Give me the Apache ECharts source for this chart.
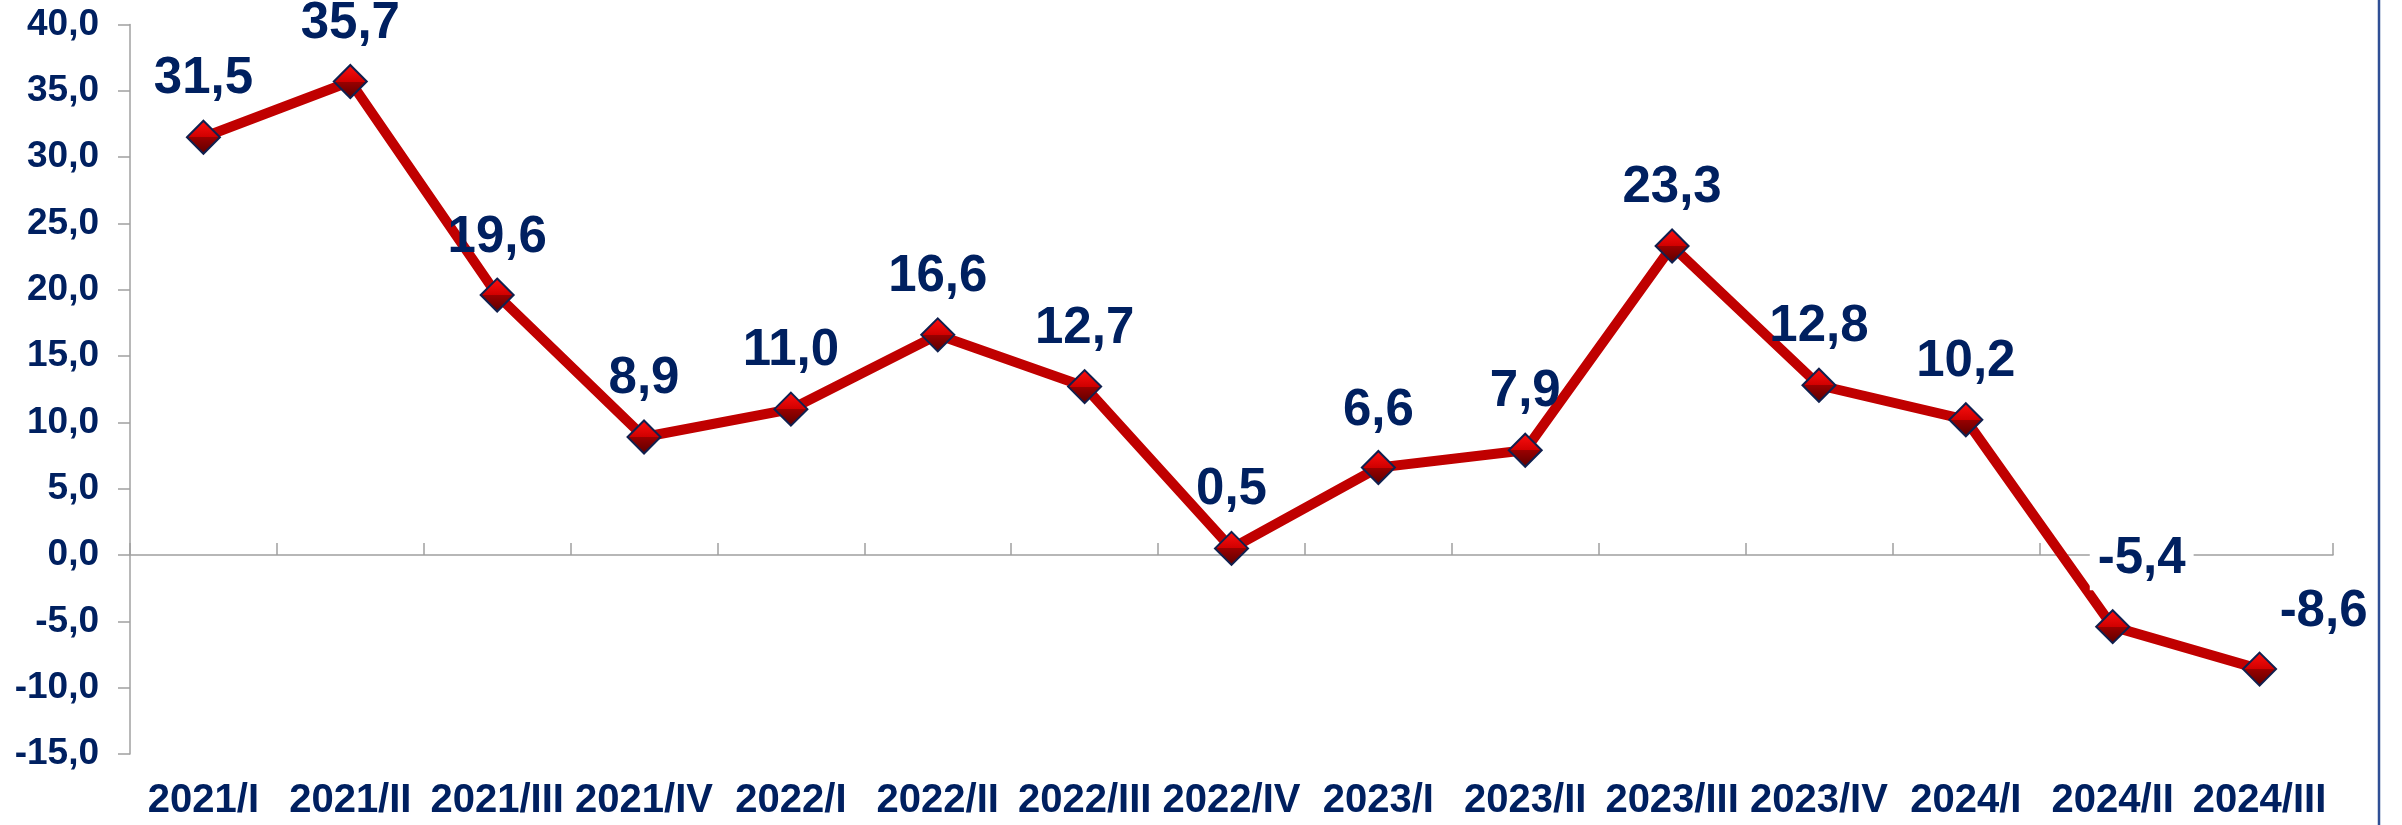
<!DOCTYPE html>
<html>
<head>
<meta charset="utf-8">
<script src="https://cdn.jsdelivr.net/npm/echarts@6/dist/echarts.min.js"></script>
<style>
  html, body { margin: 0; padding: 0; background: #ffffff; }
  #chart { width: 2402px; height: 825px; }
</style>
</head>
<body>
<div id="chart"></div>
<script>
// ---- data ----
const categories = ['2021/I', '2021/II', '2021/III', '2021/IV', '2022/I', '2022/II', '2022/III', '2022/IV',
                    '2023/I', '2023/II', '2023/III', '2023/IV', '2024/I', '2024/II', '2024/III'];
const values = [31.5, 35.7, 19.6, 8.9, 11.0, 16.6, 12.7, 0.5, 6.6, 7.9, 23.3, 12.8, 10.2, -5.4, -8.6];
const yMin = -15, yMax = 40, yStep = 5;

// label placement (layout, kept apart from the data)
const labelOffsets = [[0, -58], [0, -58], [0, -57], [0, -58], [0, -58], [0, -58], [0, -58], [0, -58],
                      [0, -57], [0, -58], [0, -58], [0, -58], [0, -58], [29, -68], [64, -57]];
const filledLabel = 13; // the -5,4 label sits on a white box that hides the axis

const NAVY = '#002060';
const FONT = '"Liberation Sans", Arial, sans-serif';
const fmt = v => v.toFixed(1).replace('.', ',');

const chart = echarts.init(document.getElementById('chart'), null, { renderer: 'canvas' });

const seriesData = values.map((v, i) => ({
  value: v,
  label: i === filledLabel
    ? { offset: labelOffsets[i], backgroundColor: '#ffffff', padding: [6, 8] }
    : { offset: labelOffsets[i] }
}));

chart.setOption({
  animation: false,
  backgroundColor: '#ffffff',
  grid: { left: 130, right: 69, top: 24.5, bottom: 71, containLabel: false },
  xAxis: [
    {
      type: 'category',
      data: categories,
      boundaryGap: true,
      axisLine: { show: true, onZero: true, lineStyle: { color: '#a0a0a0', width: 1.5 } },
      axisTick: { show: true, inside: true, length: 12, interval: 0, lineStyle: { color: '#a0a0a0', width: 1.5 } },
      axisLabel: { show: false },
      splitLine: { show: false }
    },
    {
      type: 'category',
      data: categories,
      position: 'bottom',
      boundaryGap: true,
      axisLine: { show: false, onZero: false },
      axisTick: { show: false },
      axisLabel: {
        show: true, interval: 0, margin: 27,
        color: NAVY, fontFamily: FONT, fontWeight: 'bold', fontSize: 40
      },
      splitLine: { show: false }
    }
  ],
  yAxis: {
    type: 'value',
    min: yMin, max: yMax, interval: yStep,
    axisLine: { show: true, lineStyle: { color: '#a0a0a0', width: 1.5 } },
    axisTick: { show: true, inside: false, length: 12, lineStyle: { color: '#a0a0a0', width: 1.5 } },
    axisLabel: {
      margin: 31, color: NAVY, fontFamily: FONT, fontWeight: 'bold', fontSize: 37,
      formatter: v => fmt(v)
    },
    splitLine: { show: false }
  },
  series: [{
    type: 'line',
    xAxisIndex: 0,
    data: seriesData,
    symbol: 'diamond',
    symbolSize: 33,
    lineStyle: { color: '#C00000', width: 10, join: 'miter' },
    itemStyle: {
      color: {
        type: 'linear', x: 0, y: 0, x2: 0, y2: 1,
        colorStops: [
          { offset: 0, color: '#ff1010' },
          { offset: 0.5, color: '#d00000' },
          { offset: 0.5, color: '#9a0000' },
          { offset: 1, color: '#5a0000' }
        ]
      },
      borderColor: '#10204f',
      borderWidth: 2
    },
    label: {
      show: true,
      position: 'inside',
      formatter: p => fmt(p.value),
      color: NAVY,
      fontFamily: FONT,
      fontWeight: 'bold',
      fontSize: 51
    },
    emphasis: { disabled: true },
    z: 3
  }],
  graphic: [{
    type: 'line',
    shape: { x1: 2379, y1: 0, x2: 2379, y2: 825 },
    style: { stroke: '#2f4f95', lineWidth: 2.5 },
    z: 10
  }]
});
</script>
</body>
</html>
